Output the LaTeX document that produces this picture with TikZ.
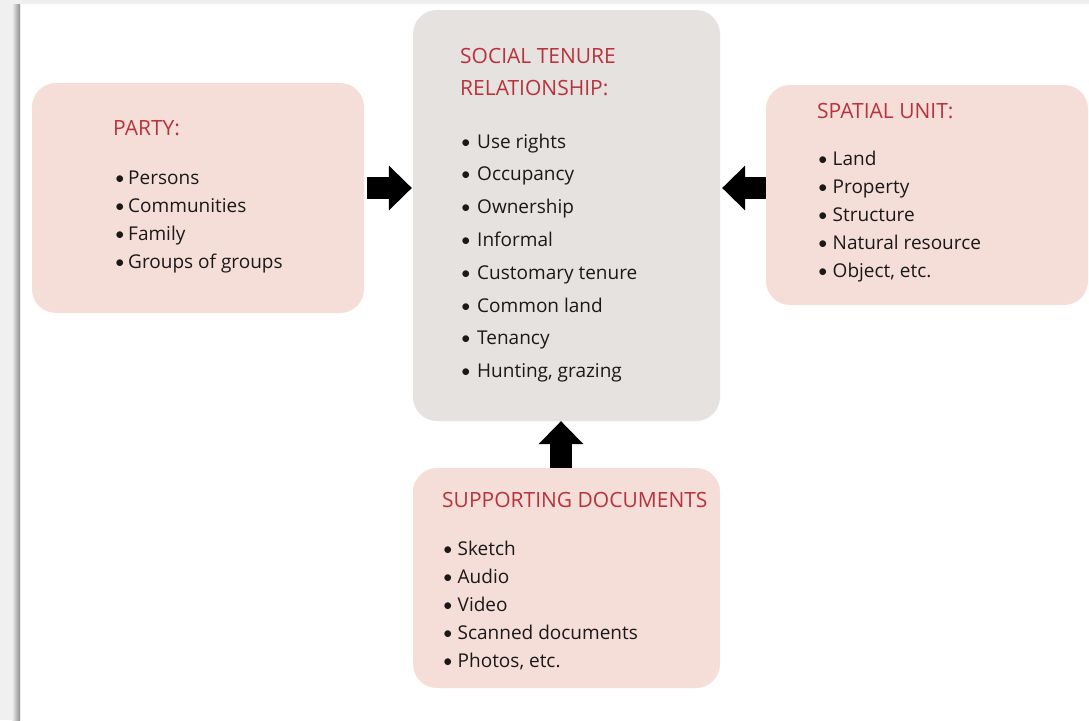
\documentclass[tikz,border=0pt]{standalone}
\usepackage{fontspec}
\setmainfont{Open Sans}
\newfontfamily\bulletfont{Carlito}
\usetikzlibrary{arrows.meta}
\definecolor{pinkbox}{HTML}{F6DED8}
\definecolor{graybox}{HTML}{E6E2DF}
\definecolor{titlered}{HTML}{B8323E}
\definecolor{textdark}{HTML}{1A1819}
\definecolor{pagegray}{HTML}{F0F0F0}
\definecolor{shadowgray}{HTML}{8C8C8C}
\newcommand{\itembullet}[1]{\makebox[#1][l]{\bulletfont •}}
\begin{document}
\begin{tikzpicture}[x=1pt,y=-1pt,
  boxbase/.style={rectangle, rounded corners=24pt, inner sep=0pt, draw=none},
  pinkpanel/.style={boxbase, fill=pinkbox},
  graypanel/.style={boxbase, fill=graybox},
  titletext/.style={anchor=base west, inner sep=0pt, text=titlered, font=\fontsize{21}{25}\selectfont},
  itemtext/.style={anchor=base west, inner sep=0pt, text=textdark, font=\fontsize{19}{24}\selectfont},
  blockarrow/.style={draw=black, line width=22pt,
    -{Triangle[length=23pt, width=45pt, line width=0pt]}}
]
\useasboundingbox (0,0) rectangle (1089,720);
% page background
\fill[pagegray] (0,0) rectangle (1089,720);
\fill[white] (20,4) rectangle (1089,720);
\shade[left color=pagegray, right color=shadowgray] (12,4) rectangle (20,720);

% panels
\node[pinkpanel, minimum width=332pt, minimum height=230pt] (party) at (198,198) {};
\node[graypanel, minimum width=307pt, minimum height=411pt] (str) at (566.5,215.5) {};
\node[pinkpanel, minimum width=322pt, minimum height=220pt] (spatial) at (927,195) {};
\node[pinkpanel, minimum width=307pt, minimum height=220pt] (docs) at (566.5,578) {};

% party text
\node[titletext] (partytitle) at (113,135) {PARTY:};
\foreach \t [count=\i from 0] in {Persons, Communities, Family, Groups of groups}
  \node[itemtext] (partyitem\i) at (115,184+28*\i) {\itembullet{13pt}\t};

% social tenure relationship text
\node[titletext] (strtitleA) at (460,63) {SOCIAL TENURE};
\node[titletext] (strtitleB) at (460,95) {RELATIONSHIP:};
\foreach \t [count=\i from 0] in {Use rights, Occupancy, Ownership, Informal, Customary tenure, Common land, Tenancy, {Hunting, grazing}}
  \node[itemtext] (stritem\i) at (461,148+32.8*\i) {\itembullet{16pt}\t};

% spatial unit text
\node[titletext] (spatialtitle) at (817,118) {SPATIAL UNIT:};
\foreach \t [count=\i from 0] in {Land, Property, Structure, Natural resource, {Object, etc.}}
  \node[itemtext] (spatialitem\i) at (818,165+28*\i) {\itembullet{14.5pt}\t};

% supporting documents text
\node[titletext] (docstitle) at (442,507) {SUPPORTING DOCUMENTS};
\foreach \t [count=\i from 0] in {Sketch, Audio, Video, Scanned documents, {Photos, etc.}}
  \node[itemtext] (docsitem\i) at (443,555+28*\i) {\itembullet{14.5pt}\t};

% arrows
\coordinate (arow) at (0,188);
\coordinate (acol) at (561,0);
\draw[blockarrow, shorten <=3pt, shorten >=1pt] (party.east |- arow) -- (str.west |- arow);
\draw[blockarrow, shorten >=2pt] (spatial.west |- arow) -- (str.east |- arow);
\draw[blockarrow] (docs.north -| acol) -- (str.south -| acol);
\end{tikzpicture}
\end{document}
